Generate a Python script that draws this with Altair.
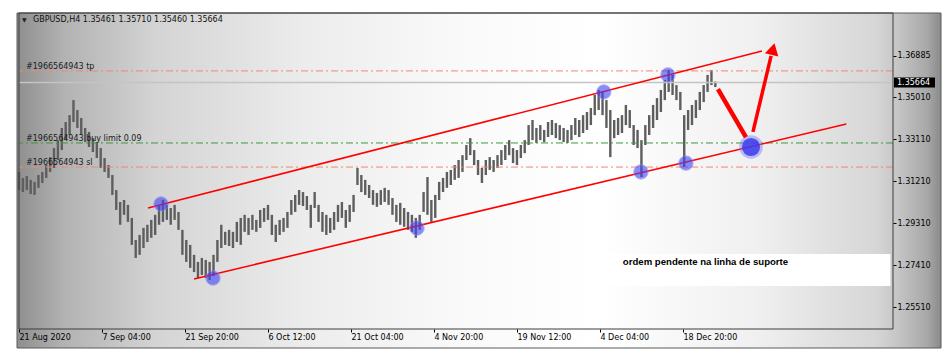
import altair as alt
import pandas as pd

# ---------------- data ----------------
tick_idx = [0, 64, 128, 192, 256, 320, 384, 448, 512]
tick_labels = ["21 Aug 2020", "7 Sep 04:00", "21 Sep 20:00", "6 Oct 12:00", "21 Oct 04:00",
               "4 Nov 20:00", "19 Nov 12:00", "4 Dec 04:00", "18 Dec 20:00"]
price_ticks = [1.25510, 1.27410, 1.29310, 1.31210, 1.33110, 1.35010, 1.36885]

high = [1.3162, 1.3135, 1.3144, 1.3126, 1.3117, 1.3148, 1.3162, 1.3193, 1.3229, 1.3270,
        1.3306, 1.3361, 1.3388, 1.3419, 1.3487, 1.3442, 1.3406, 1.3361, 1.3343, 1.3315,
        1.3297, 1.3270, 1.3225, 1.3193, 1.3148, 1.3080, 1.3026, 1.3035, 1.3013, 1.2954,
        1.2854, 1.2877, 1.2909, 1.2923, 1.2945, 1.2968, 1.3013, 1.3035, 1.3013, 1.2999,
        1.3013, 1.2981, 1.2900, 1.2854, 1.2832, 1.2787, 1.2755, 1.2773, 1.2764, 1.2755,
        1.2787, 1.2854, 1.2923, 1.2891, 1.2900, 1.2891, 1.2936, 1.2954, 1.2968, 1.2954,
        1.2968, 1.2945, 1.2990, 1.2999, 1.3013, 1.2968, 1.2923, 1.2945, 1.2954, 1.2981,
        1.3035, 1.3058, 1.3080, 1.3071, 1.3053, 1.3013, 1.3071, 1.3013, 1.2981, 1.2968,
        1.2954, 1.2981, 1.3013, 1.3026, 1.2990, 1.3013, 1.3058, 1.3180, 1.3148, 1.3126,
        1.3103, 1.3080, 1.3067, 1.3080, 1.3090, 1.3080, 1.3044, 1.3013, 1.3022, 1.2999,
        1.2981, 1.2968, 1.2954, 1.2968, 1.3071, 1.3139, 1.3035, 1.3058, 1.3117, 1.3135,
        1.3162, 1.3171, 1.3193, 1.3216, 1.3238, 1.3284, 1.3315, 1.3261, 1.3216, 1.3180,
        1.3216, 1.3229, 1.3216, 1.3238, 1.3261, 1.3284, 1.3306, 1.3270, 1.3261, 1.3284,
        1.3306, 1.3374, 1.3397, 1.3361, 1.3374, 1.3352, 1.3388, 1.3397, 1.3383, 1.3374,
        1.3361, 1.3352, 1.3374, 1.3406, 1.3397, 1.3419, 1.3433, 1.3451, 1.3510, 1.3533,
        1.3524, 1.3487, 1.3442, 1.3397, 1.3406, 1.3419, 1.3465, 1.3442, 1.3374, 1.3352,
        1.3306, 1.3374, 1.3419, 1.3465, 1.3496, 1.3533, 1.3578, 1.3623, 1.3601, 1.3555,
        1.3524, 1.3419, 1.3442, 1.3465, 1.3487, 1.3524, 1.3555, 1.3601, 1.3623, 1.3571]

low = [1.3080, 1.3071, 1.3080, 1.3062, 1.3058, 1.3090, 1.3112, 1.3135, 1.3162, 1.3180,
       1.3216, 1.3261, 1.3306, 1.3329, 1.3388, 1.3361, 1.3329, 1.3297, 1.3275, 1.3252,
       1.3225, 1.3180, 1.3162, 1.3135, 1.3058, 1.2990, 1.2923, 1.2968, 1.2936, 1.2832,
       1.2773, 1.2787, 1.2818, 1.2845, 1.2864, 1.2877, 1.2923, 1.2936, 1.2945, 1.2923,
       1.2945, 1.2900, 1.2787, 1.2755, 1.2728, 1.2709, 1.2682, 1.2696, 1.2682, 1.2673,
       1.2691, 1.2755, 1.2818, 1.2832, 1.2827, 1.2818, 1.2845, 1.2832, 1.2891, 1.2877,
       1.2900, 1.2891, 1.2909, 1.2936, 1.2945, 1.2877, 1.2845, 1.2877, 1.2891, 1.2909,
       1.2968, 1.2981, 1.3013, 1.3008, 1.2990, 1.2909, 1.2999, 1.2936, 1.2891, 1.2877,
       1.2886, 1.2900, 1.2936, 1.2954, 1.2909, 1.2936, 1.2981, 1.3103, 1.3071, 1.3058,
       1.3044, 1.3013, 1.3004, 1.3013, 1.3026, 1.3013, 1.2968, 1.2936, 1.2923, 1.2914,
       1.2900, 1.2891, 1.2864, 1.2900, 1.2981, 1.2968, 1.2936, 1.2954, 1.3035, 1.3071,
       1.3090, 1.3103, 1.3126, 1.3135, 1.3162, 1.3216, 1.3238, 1.3193, 1.3148, 1.3112,
       1.3148, 1.3171, 1.3162, 1.3180, 1.3193, 1.3216, 1.3238, 1.3202, 1.3193, 1.3225,
       1.3247, 1.3284, 1.3306, 1.3293, 1.3306, 1.3297, 1.3320, 1.3329, 1.3315, 1.3306,
       1.3297, 1.3293, 1.3306, 1.3329, 1.3320, 1.3338, 1.3352, 1.3374, 1.3419, 1.3442,
       1.3419, 1.3361, 1.3229, 1.3315, 1.3329, 1.3338, 1.3374, 1.3361, 1.3284, 1.3270,
       1.3139, 1.3284, 1.3329, 1.3361, 1.3397, 1.3433, 1.3487, 1.3524, 1.3510, 1.3487,
       1.3442, 1.3184, 1.3352, 1.3374, 1.3406, 1.3442, 1.3478, 1.3524, 1.3555, 1.3546]

bar_idx = list(range(0, 3 * len(high), 3))

# order levels
tp_price = 1.3619
buy_limit_price = 1.3293
sl_price = 1.3184
last_price = 1.35664
order_labels = ["#1966564943 tp", "#1966564943 buy limit 0.09", "#1966564943 sl"]

# channel lines
chan_line = ["upper", "upper", "lower", "lower"]
chan_idx = [99.5, 573, 135, 638]
chan_price = [1.2999, 1.3709, 1.2678, 1.3379]

# touch points
dot_idx = [109.5, 149.6, 306.9, 451, 479.6, 500.4, 514.3]
dot_price = [1.3017, 1.2682, 1.2908, 1.3524, 1.3162, 1.3601, 1.3202]
big_dot_idx = [564.5]
big_dot_price = [1.3275]

# red arrows
down_idx = [539, 560.6]
down_price = [1.3537, 1.3320]
up_idx = [566, 580]
up_price = [1.3343, 1.3687]
head_idx = [581.5]
head_price = [1.3718]

# annotation box
note_text = "ordem pendente na linha de suporte"
box_idx = [440, 672]
box_price = [1.2791, 1.2646]
note_idx = 529.4
note_price = 1.2755

header = "GBPUSD,H4  1.35461 1.35710 1.35460 1.35664"

# ---------------- chart ----------------
W, H = 874, 316
FONT = "DejaVu Sans"
xs = alt.Scale(domain=[0, 674], nice=False, zero=False)
ys = alt.Scale(domain=[1.24515, 1.3881], nice=False, zero=False)

xa = alt.Axis(values=tick_idx,
              labelExpr="[" + ",".join("'%s'" % t for t in tick_labels) + "][round(datum.value/64)]",
              grid=False, domain=False, ticks=True, tickSize=3, tickColor="#000000",
              labelAlign="left", labelPadding=1, labelFont=FONT, labelFontSize=8,
              labelColor="#000000", labelFlush=False, labelOverlap=False, zindex=1, title=None)
ya = alt.Axis(orient="right", values=price_ticks, format=".5f", grid=False, domain=False,
              tickSize=3, tickColor="#000000", labelPadding=1, labelFont=FONT,
              labelFontSize=8, labelColor="#000000", labelFlush=False,
              labelOverlap=False, zindex=1, title=None)


def X(f):
    return alt.X(f, type="quantitative", scale=xs, axis=xa)


def Y(f):
    return alt.Y(f, type="quantitative", scale=ys, axis=ya)


one = pd.DataFrame({"a": [0]})

bg_grad = {"gradient": "linear", "x1": 0, "y1": 0, "x2": 1, "y2": 0,
           "stops": [{"offset": 0.0, "color": "#8e8e8e"},
                     {"offset": 0.05, "color": "#b2b2b2"},
                     {"offset": 0.15, "color": "#d4d4d4"},
                     {"offset": 0.31, "color": "#ececec"},
                     {"offset": 0.47, "color": "#f9f9f9"},
                     {"offset": 0.63, "color": "#ffffff"},
                     {"offset": 0.80, "color": "#f0f0f0"},
                     {"offset": 0.93, "color": "#d6d6d6"},
                     {"offset": 0.95, "color": "#c8c8c8"},
                     {"offset": 0.985, "color": "#a8a8a8"},
                     {"offset": 1.0, "color": "#8a8a8a"}]}

background = alt.Chart(one).mark_rect(color=bg_grad).encode(
    x=alt.value(-2), x2=alt.value(922), y=alt.value(0), y2=alt.value(335))

red_levels = alt.Chart(pd.DataFrame({"price": [tp_price, sl_price]})).mark_rule(
    color="#ef8a68", strokeWidth=1, strokeDash=[7, 3, 2, 3]).encode(y=Y("price"))
green_level = alt.Chart(pd.DataFrame({"price": [buy_limit_price]})).mark_rule(
    color="#3c9a3c", strokeWidth=1, strokeDash=[7, 3, 2, 3]).encode(y=Y("price"))
last_line = alt.Chart(pd.DataFrame({"price": [last_price]})).mark_rule(
    color="#c4c4c4", strokeWidth=1.5).encode(y=Y("price"))

lab_df = pd.DataFrame({"price": [tp_price, buy_limit_price, sl_price], "label": order_labels})
order_text = alt.Chart(lab_df).mark_text(
    align="left", baseline="alphabetic", dy=-2, font=FONT, fontSize=8, color="#1a1a1a").encode(
    x=alt.value(7), y=Y("price"), text="label:N")

bars_df = pd.DataFrame({"idx": bar_idx, "high": high, "low": low})
bars = alt.Chart(bars_df).mark_rule(color="#5e5e5e", strokeWidth=2.4).encode(
    x=X("idx"), y=Y("low"), y2="high:Q")

chan_df = pd.DataFrame({"line": chan_line, "idx": chan_idx, "price": chan_price})
channel = alt.Chart(chan_df).mark_line(color="#ff0000", strokeWidth=1.6).encode(
    x=X("idx"), y=Y("price"), detail="line:N")

dots = alt.Chart(pd.DataFrame({"idx": dot_idx, "price": dot_price})).mark_circle(
    size=210, color="#4646f2", opacity=0.62, stroke="#8c8cff", strokeWidth=1).encode(
    x=X("idx"), y=Y("price"))
big_halo = alt.Chart(pd.DataFrame({"idx": big_dot_idx, "price": big_dot_price})).mark_circle(
    size=560, color="#7a7af5", opacity=0.45).encode(x=X("idx"), y=Y("price"))
big_dot = alt.Chart(pd.DataFrame({"idx": big_dot_idx, "price": big_dot_price})).mark_circle(
    size=330, color="#3434ee", opacity=0.8).encode(x=X("idx"), y=Y("price"))

down = alt.Chart(pd.DataFrame({"idx": down_idx, "price": down_price})).mark_line(
    color="#ff0000", strokeWidth=4.5, strokeCap="butt").encode(x=X("idx"), y=Y("price"))
up = alt.Chart(pd.DataFrame({"idx": up_idx, "price": up_price})).mark_line(
    color="#ff0000", strokeWidth=3.5, strokeCap="butt").encode(x=X("idx"), y=Y("price"))
head = alt.Chart(pd.DataFrame({"idx": head_idx, "price": head_price})).mark_point(
    shape="triangle-up", filled=True, color="#ff0000", opacity=1, size=190, angle=14).encode(
    x=X("idx"), y=Y("price"))

box = alt.Chart(pd.DataFrame({"x1": [box_idx[0]], "x2": [box_idx[1]],
                              "y1": [box_price[0]], "y2": [box_price[1]]})).mark_rect(
    color="#ffffff").encode(x=X("x1"), x2="x2:Q", y=Y("y1"), y2="y2:Q")
note = alt.Chart(pd.DataFrame({"idx": [note_idx], "price": [note_price], "t": [note_text]})).mark_text(
    font="Liberation Sans", fontSize=9.6, fontWeight="bold", color="#000000").encode(
    x=X("idx"), y=Y("price"), text="t:N")

head_tri = alt.Chart(one).mark_text(text="▼", font=FONT, fontSize=6, color="#222222", align="left").encode(
    x=alt.value(3), y=alt.value(7))
head_txt = alt.Chart(one).mark_text(text=header, font=FONT, fontSize=8, color="#111111",
                                    align="left", baseline="middle").encode(
    x=alt.value(14), y=alt.value(7))

last_box = alt.Chart(pd.DataFrame({"price": [last_price]})).mark_rect(
    color="#000000", yOffset=-5, y2Offset=5).encode(
    x=alt.value(875), x2=alt.value(916), y=Y("price"), y2="price:Q")
last_txt = alt.Chart(pd.DataFrame({"price": [last_price], "t": ["1.35664"]})).mark_text(
    font=FONT, fontSize=8, color="#ffffff", align="left", baseline="middle").encode(
    x=alt.value(878), y=Y("price"), text="t:N")

frame = alt.Chart(one).mark_rect(filled=False, stroke="#3c3c3c", strokeWidth=1).encode(
    x=alt.value(0), x2=alt.value(W), y=alt.value(0), y2=alt.value(H))
outer = alt.Chart(one).mark_rect(filled=False, stroke="#5a5a5a", strokeWidth=1).encode(
    x=alt.value(-2), x2=alt.value(922), y=alt.value(0), y2=alt.value(335))

chart = alt.layer(
    background, outer, bars, last_line, red_levels, green_level, channel, box, note,
    dots, big_halo, big_dot, down, up, head, order_text, head_tri, head_txt,
    frame, last_box, last_txt
).properties(
    width=W, height=H,
    autosize=alt.AutoSizeParams(type="none"),
    padding={"left": 19, "top": 13, "right": 57, "bottom": 27},
).configure(background="#ffffff").configure_view(stroke=None)

chart.save("out.html", embed_options={"renderer": "svg", "actions": False})
